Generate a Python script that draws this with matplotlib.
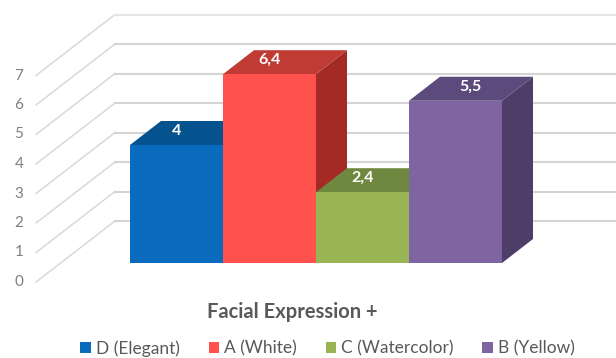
import matplotlib
matplotlib.use("Agg")
import matplotlib.pyplot as plt
from matplotlib.patches import Polygon, Patch

plt.rcParams['font.family'] = ['Lato', 'DejaVu Sans']

categories = ['D (Elegant)', 'A (White)', 'C (Watercolor)', 'B (Yellow)']
values = [4, 6.4, 2.4, 5.5]
value_labels = ['4', '6,4', '2,4', '5,5']
y_ticks = [0, 1, 2, 3, 4, 5, 6, 7]

front_colors = ['#0a6bbd', '#ff524c', '#99b455', '#7e64a0']
top_colors = ['#04538f', '#bf3b33', '#6f883f', '#5c4a7c']
side_colors = ['#04477c', '#a32a25', '#5f7536', '#4e3d68']

# one x unit is a bar width, one y unit is a tick step
bar_px = 93.0
unit_px = 29.5
depth_x = 31 / bar_px
depth_y = 24 / unit_px

fig = plt.figure(figsize=(6.16, 3.58), dpi=100)
ax = fig.add_axes([0, 0, 1, 1])
ax.set_xlim(-130 / bar_px, (616 - 130) / bar_px)
ax.set_ylim(-(358 - 263) / unit_px, 263 / unit_px)
ax.axis('off')

# side wall and back wall gridlines
wall_left = -94 / bar_px
wall_back = -15 / bar_px
floor_front = -19 / unit_px
floor_back = 42 / unit_px
for v in y_ticks:
    color = '#e6e6e6' if v == 7 else '#d4d4d4'
    ax.plot([wall_left, wall_back], [floor_front + v, floor_back + v],
            color='#d9d9d9', lw=1.1, zorder=1)
    ax.plot([wall_back, 10], [floor_back + v, floor_back + v],
            color=color, lw=1.5, zorder=1)
    ax.text(-111 / bar_px, floor_front + v, str(v), ha='center', va='center',
            fontsize=11, color='#7f7f7f')

# 3D bars, left to right so each one hides part of the previous one
z = 2
for i, v in enumerate(values):
    x0, x1 = i, i + 1
    side = [(x1, 0), (x1 + depth_x, depth_y), (x1 + depth_x, v + depth_y), (x1, v)]
    top = [(x0, v), (x1, v), (x1 + depth_x, v + depth_y), (x0 + depth_x, v + depth_y)]
    front = [(x0, 0), (x1, 0), (x1, v), (x0, v)]
    ax.add_patch(Polygon(side, fc=side_colors[i], ec='none', zorder=z))
    ax.add_patch(Polygon(top, fc=top_colors[i], ec='none', zorder=z + 1))
    ax.add_patch(Polygon(front, fc=front_colors[i], ec='none', zorder=z + 2))
    z += 3

# the last label sits further right on its bar
label_shift = [0, 0, 0, 15 / bar_px]
for i, v in enumerate(values):
    ax.text(i + 0.5 + label_shift[i], v + 14 / unit_px, value_labels[i],
            ha='center', va='center', fontsize=11.5, fontweight='bold',
            color='white', zorder=30)

ax.text((292 - 130) / bar_px, (263 - 311.5) / unit_px, 'Facial Expression +',
        ha='center', va='center', fontsize=14.5, fontweight='bold', color='#595959')

handles = [Patch(fc=c, ec='none', label=n) for c, n in zip(front_colors, categories)]
fig.legend(handles=handles, loc='lower center', bbox_to_anchor=(0.532, -0.04), ncol=4,
           frameon=False, fontsize=12.5, labelcolor='#595959',
           handlelength=0.6, handleheight=0.6, handletextpad=0.3, columnspacing=1.65)

fig.savefig('out.png', dpi=100)
